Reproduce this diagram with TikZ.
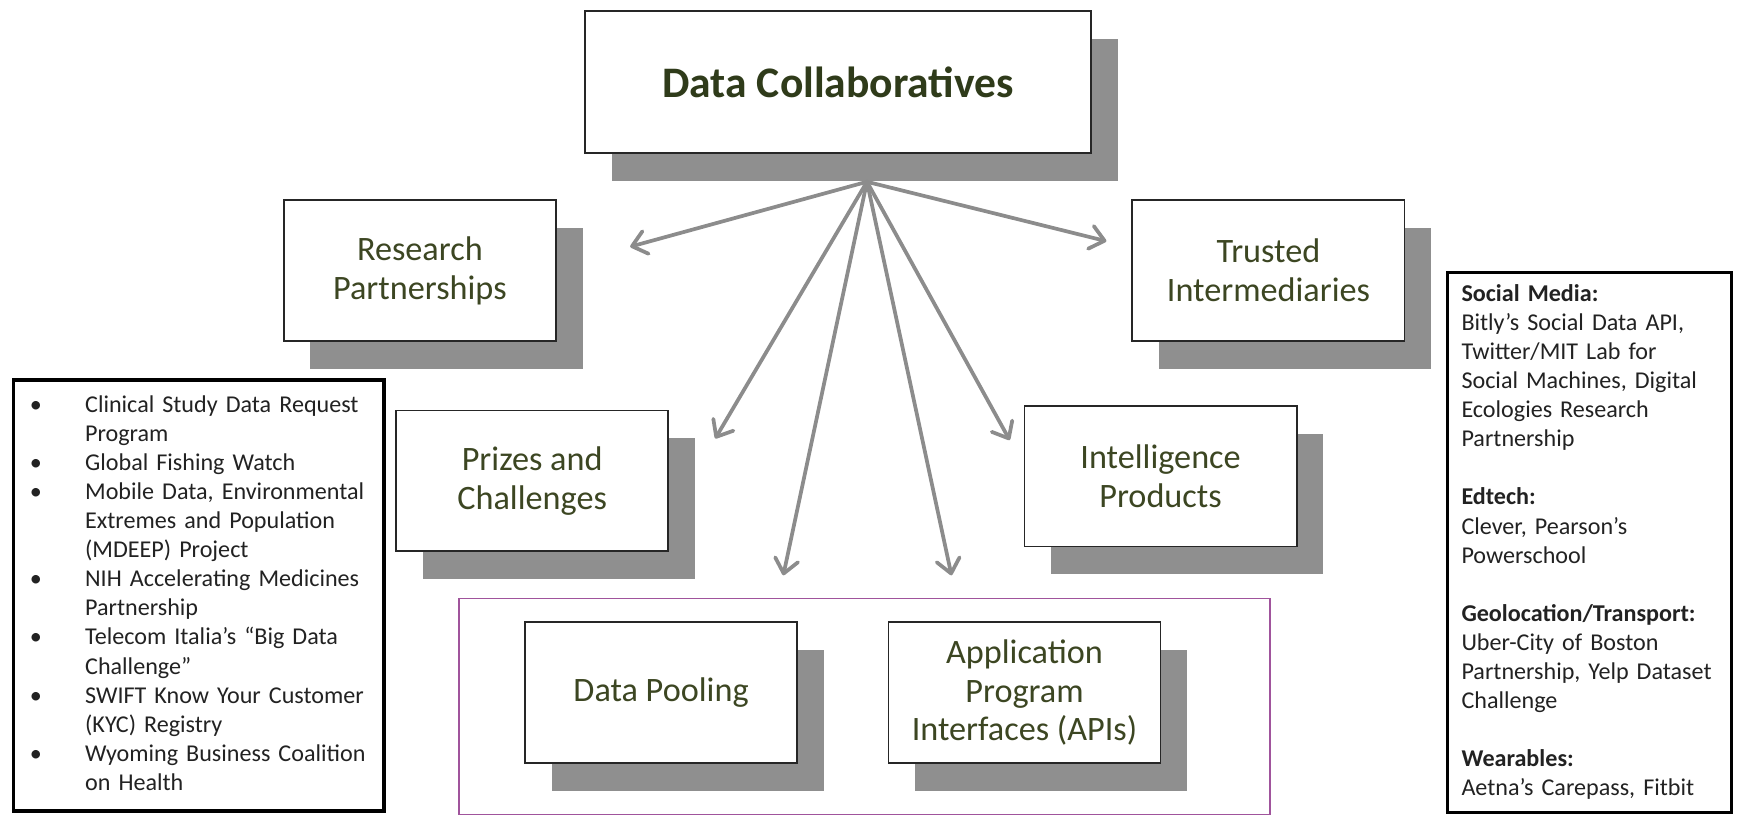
\documentclass[tikz,border=0pt]{standalone}
\usepackage{fontspec}
\setmainfont{Carlito}
\usetikzlibrary{arrows.meta,shadows}
\definecolor{titlegreen}{HTML}{2F3B1A}
\definecolor{labelgreen}{HTML}{3C4622}
\definecolor{shadowgray}{HTML}{8F8F8F}
\definecolor{arrowgray}{HTML}{8C8C8C}
\definecolor{framepurple}{HTML}{A0549C}
\definecolor{listtext}{HTML}{222222}

\begin{document}
\begin{tikzpicture}[x=0.025cm,y=-0.025cm,
    typebox/.style={draw=black!85,line width=1.1pt,fill=white,align=center,text=labelgreen,
      inner sep=0pt,minimum width=6.15cm,minimum height=3.175cm,
      font=\fontsize{22pt}{25pt}\selectfont,
      drop shadow={shadow xshift=0.6cm,shadow yshift=-0.63cm,fill=shadowgray,opacity=1}},
    listbox/.style={draw=black,line width=2pt,fill=white,text=listtext,inner ysep=0pt,
      font=\fontsize{15.5pt}{18.7pt}\selectfont,align=left},
    spoke/.style={draw=arrowgray,line width=2.4pt,-{Straight Barb[length=9pt,width=15pt,round]}}]
    \useasboundingbox (0,0) rectangle (1570,737.5);
    \node[typebox,minimum width=11.425cm,minimum height=3.2cm,text=titlegreen,
      font=\fontsize{28pt}{32pt}\selectfont\bfseries] (collab) at (757.5,74) {Data Collaboratives};
    \node[typebox] (research) at (379.5,244.5) {Research\\Partnerships};
    \node[typebox] (trusted) at (1146.5,244.5) {Trusted\\Intermediaries};
    \node[typebox] (prizes) at (481,434.5) {Prizes and\\Challenges};
    \node[typebox] (intel) at (1049,430.5) {Intelligence\\Products};
    \node[draw=framepurple,line width=1pt,inner sep=0pt,minimum width=18.325cm,minimum height=4.875cm] (apiframe) at (781.5,638.5) {};
    \node[typebox] (pooling) at (597.5,626) {Data Pooling};
    \node[typebox] (apis) at (926,626) {Application\\Program\\Interfaces (APIs)};
    \node[listbox,text width=7.625cm,inner xsep=0.375cm,minimum height=9.7375cm] (cases) at (179.5,538.25) {%
      \begin{tabular}{@{}p{1.25cm}@{}l@{}}
        \textbullet & Clinical Study Data Request\\
         & Program\\
        \textbullet & Global Fishing Watch\\
        \textbullet & Mobile Data, Environmental\\
         & Extremes and Population\\
         & (MDEEP) Project\\
        \textbullet & NIH Accelerating Medicines\\
         & Partnership\\
        \textbullet & Telecom Italia’s “Big Data\\
         & Challenge”\\
        \textbullet & SWIFT Know Your Customer\\
         & (KYC) Registry\\
        \textbullet & Wyoming Business Coalition\\
         & on Health
      \end{tabular}};
    \node[listbox,text width=5.775cm,inner xsep=0.325cm,minimum height=12.2cm] (sectors) at (1436.5,490) {%
      \textbf{Social Media:}\\
      Bitly’s Social Data API,\\
      Twitter/MIT Lab for\\
      Social Machines, Digital\\
      Ecologies Research\\
      Partnership\\[18.7pt]
      \textbf{Edtech:}\\
      Clever, Pearson’s\\
      Powerschool\\[18.7pt]
      \textbf{Geolocation/Transport:}\\
      Uber-City of Boston\\
      Partnership, Yelp Dataset\\
      Challenge\\[18.7pt]
      \textbf{Wearables:}\\
      Aetna’s Carepass, Fitbit};
    \coordinate (hub) at (783.6,164.3);
    \coordinate (toresearch) at (569.6,223);
    \coordinate (totrusted) at (1000,218);
    \coordinate (toprizes) at (646.5,396.3);
    \coordinate (tointel) at (912.6,397.8);
    \coordinate (topooling) at (708,520);
    \coordinate (toapis) at (860,520);
    \draw[spoke] (hub) -- (toresearch);
    \draw[spoke] (hub) -- (totrusted);
    \draw[spoke] (hub) -- (toprizes);
    \draw[spoke] (hub) -- (tointel);
    \draw[spoke] (hub) -- (topooling);
    \draw[spoke] (hub) -- (toapis);
\end{tikzpicture}
\end{document}
